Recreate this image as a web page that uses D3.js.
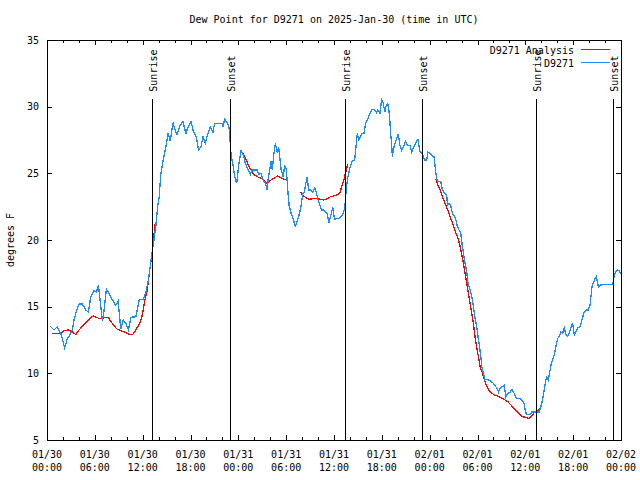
<!DOCTYPE html>
<html>
<head>
<meta charset="utf-8">
<script src="https://cdn.jsdelivr.net/npm/d3@7"></script>
<style>
  html, body { margin: 0; padding: 0; background: #fff; }
  svg { display: block; }
  text { font-family: "DejaVu Sans Mono", "Liberation Mono", monospace; font-size: 10px; fill: #000; }
</style>
</head>
<body>
<svg id="chart" width="640" height="480"></svg>
<script>
// ---------------- data ----------------
const chartTitle = "Dew Point for D9271 on 2025-Jan-30 (time in UTC)";
const yLabel = "degrees F";
const startTime = Date.UTC(2025, 0, 30, 0, 0);
const endTime = Date.UTC(2025, 1, 2, 0, 0);
const yTicks = [5, 10, 15, 20, 25, 30, 35];

// observations: hours after 2025-01-30 00:00 UTC
const obsHours = [0.38,0.88,1.29,1.63,1.92,2.22,2.55,2.89,3.18,3.39,3.73,4.02,4.44,4.86,5.19,5.49,5.91,6.2,6.45,6.66,6.95,7.16,7.45,7.79,8.21,8.63,8.92,9.26,9.55,9.89,10.22,10.52,11.15,11.56,12.1,12.4,12.69,12.94,13.16,13.36,13.66,13.86,14.07,14.29,14.58,14.92,15.2,15.46,15.8,16.08,16.3,16.62,17.05,17.43,17.63,18.06,18.38,18.72,19.01,19.31,19.57,19.85,20.14,20.48,20.82,21.02,21.95,22.08,22.28,22.66,22.91,23.0,23.12,23.34,23.54,23.79,24.04,24.34,24.67,24.88,25.22,25.51,25.72,26.35,26.55,26.85,27.1,27.39,27.61,27.73,27.93,28.11,28.27,28.44,28.65,28.86,29.07,29.19,29.37,29.62,29.82,30.03,30.2,30.37,30.62,30.87,31.13,31.38,31.67,31.88,32.08,32.29,32.42,32.63,32.83,33.05,33.34,33.59,33.8,34.02,34.22,34.43,34.72,34.93,35.15,35.35,35.56,35.85,36.06,36.28,36.61,36.91,37.16,37.36,37.45,37.57,37.74,37.99,38.29,38.58,38.7,38.92,39.12,39.33,39.55,39.75,39.96,40.25,40.5,40.8,41.09,41.34,41.51,41.76,41.97,42.18,42.38,42.56,42.76,42.89,43.01,43.1,43.23,43.32,43.44,43.64,43.86,44.07,44.27,44.48,44.7,44.99,45.2,45.53,45.74,45.95,46.24,46.53,46.66,46.79,47.0,47.21,47.37,47.63,47.79,48.04,48.34,48.54,48.67,48.84,48.97,49.38,49.6,49.89,50.14,50.23,50.43,50.64,50.85,51.06,51.27,51.48,51.68,51.9,52.11,52.31,52.44,52.65,52.81,53.07,53.28,53.49,53.66,53.82,54.0,54.12,54.28,54.41,54.54,54.75,54.91,55.13,55.33,55.67,56.01,56.17,56.42,56.64,56.84,57.14,57.34,57.55,57.76,58.09,58.31,58.6,58.9,59.35,59.65,59.85,59.98,60.15,60.61,60.82,61.23,61.74,61.95,62.16,62.36,62.58,62.7,62.87,63.0,63.21,63.42,63.62,63.84,64.05,64.25,64.46,64.68,64.88,65.09,65.3,65.51,65.72,65.93,66.14,66.35,66.56,66.89,67.1,67.32,67.61,67.89,68.11,68.23,68.36,68.52,68.74,68.9,69.08,69.2,69.28,69.7,70.96,71.09,71.29,71.59,71.79,71.95];
const obsValues = [13.55,13.25,13.5,13.1,12.6,11.9,12.6,12.9,13.25,14.0,14.75,15.2,15.2,14.75,14.6,15.75,16.2,16.1,16.6,15.5,13.9,14.75,16.3,16.0,15.5,15.1,15.4,13.3,14.0,13.75,13.25,14.2,14.25,15.5,15.55,16.1,16.9,18.0,19.0,19.75,21.1,22.4,23.25,25.0,26.0,27.0,28.0,27.4,28.8,28.25,27.9,28.5,28.9,27.95,28.4,28.9,28.1,27.75,26.75,27.0,27.75,27.25,27.9,28.5,28.1,28.75,28.75,28.5,29.05,28.75,28.25,27.0,26.25,25.6,24.75,24.25,25.6,26.7,26.3,25.75,25.25,24.9,25.25,25.25,24.9,25.0,24.5,24.25,23.75,24.5,25.25,25.9,25.25,26.4,27.25,26.6,26.9,26.25,25.25,24.75,25.6,25.25,23.75,22.6,22.0,21.6,21.05,21.4,22.0,22.6,23.5,23.6,24.1,24.7,23.75,23.75,23.6,23.9,23.5,23.0,22.6,22.25,22.25,22.1,22.0,21.25,21.75,22.45,21.55,21.6,21.6,21.75,22.0,22.4,23.25,24.0,24.7,25.4,25.95,26.0,26.6,28.0,27.5,27.75,28.0,28.0,28.75,29.1,29.5,29.8,29.75,29.55,29.75,29.5,30.5,30.25,29.6,30.1,30.2,29.75,28.9,28.0,27.25,26.25,26.75,27.25,27.6,27.95,27.1,26.75,27.0,27.4,27.1,27.1,26.6,26.9,27.3,27.55,27.1,26.6,26.55,26.25,26.0,26.0,26.6,26.5,26.3,26.25,25.6,24.75,24.4,24.4,23.75,23.5,23.4,22.6,22.75,22.6,22.0,21.8,21.55,21.0,20.75,20.5,19.5,18.75,18.25,17.6,16.75,16.25,15.75,15.0,14.25,13.75,13.1,12.5,11.9,11.25,10.5,10.0,9.5,9.55,9.5,9.4,9.25,9.1,8.9,8.6,8.9,9.0,9.1,8.25,8.5,8.55,8.8,8.5,8.1,8.1,7.9,7.75,7.25,6.9,6.9,7.1,7.1,7.1,7.5,8.0,8.75,9.5,9.75,9.5,9.9,10.6,11.0,11.4,12.0,12.6,12.8,13.1,13.0,13.4,12.9,12.8,13.0,13.4,13.75,12.9,13.1,13.4,13.5,14.0,14.5,14.75,14.75,15.1,15.75,16.5,16.75,17.1,17.25,16.75,16.4,16.6,16.65,16.65,17.1,17.6,17.75,17.7,17.45];

// analysis: hours after 2025-01-30 00:00 UTC; null marks a gap
const anaHours = [0.67,1.72,2.14,2.64,3.18,3.61,4.02,4.56,5.06,5.49,5.78,6.25,6.53,6.95,7.29,7.67,8.0,8.42,8.83,9.26,9.89,10.43,10.72,11.15,11.56,11.85,12.06,12.28,12.53,12.73,12.94,13.16,13.36,13.57,
  null,
  24.5,24.67,25.01,25.3,25.6,25.85,26.23,26.55,26.98,27.27,27.61,27.81,28.24,28.65,28.94,29.28,29.69,29.91,
  null,
  31.79,32.0,32.42,32.83,33.46,33.89,34.31,34.72,35.15,35.56,35.98,36.48,36.73,36.91,37.11,37.32,37.53,37.74,
  null,
  48.76,49.05,49.3,49.6,49.89,50.23,50.55,50.85,51.14,51.48,51.73,51.99,52.24,52.44,52.65,52.87,53.07,53.28,53.49,53.69,53.91,54.12,54.32,54.63,54.91,55.25,55.67,56.08,56.51,57.14,57.76,58.39,59.02,59.65,60.07,60.48,60.82,61.11,61.53,61.86];
const anaValues = [13.0,13.0,13.2,13.25,13.1,12.9,13.25,13.6,13.9,14.2,14.3,14.2,14.1,14.1,14.2,14.2,13.9,13.55,13.3,13.2,13.05,12.9,12.9,13.25,13.7,14.1,14.75,15.5,16.1,17.0,18.0,18.9,20.0,21.25,
  null,
  26.6,26.4,26.0,25.55,25.25,24.95,24.8,24.7,24.6,24.45,24.25,24.4,24.55,24.7,24.8,24.7,24.55,24.5,
  null,
  23.62,23.4,23.2,23.05,23.1,23.1,23.05,23.0,23.1,23.25,23.3,23.4,23.5,23.9,24.25,24.7,25.25,25.7,
  null,
  24.6,24.1,23.75,23.25,22.8,22.3,21.75,21.3,20.75,20.25,19.75,19.0,18.25,17.5,16.75,16.0,15.25,14.5,13.75,12.75,11.9,11.25,10.5,10.0,9.4,8.9,8.55,8.4,8.3,8.1,7.9,7.5,7.1,6.75,6.7,6.6,6.8,7.05,7.2,7.4];

// sun events: hours after 2025-01-30 00:00 UTC
const sunLabels = ["Sunrise", "Sunset", "Sunrise", "Sunset", "Sunrise", "Sunset"];
const sunHours = [13.23, 22.91, 37.36, 47.03, 61.36, 71.04];
const sunLineTop = 30.6;   // value where the event lines stop

const seriesNames = ["D9271 Analysis", "D9271"];
const seriesColors = ["#ff0000", "#1a8cff"];

// ---------------- drawing ----------------
const HOUR = 3600 * 1000;
const toDate = h => new Date(startTime + h * HOUR);

const svg = d3.select("#chart");
const pLeft = 47, pRight = 621, pTop = 40, pBottom = 440;

const x = d3.scaleUtc().domain([new Date(startTime), new Date(endTime)]).range([pLeft, pRight]);
const y = d3.scaleLinear().domain([5, 35]).range([pBottom, pTop]);

svg.append("rect").attr("width", 640).attr("height", 480).attr("fill", "#fff");

const majorTicks = d3.utcHour.every(6).range(new Date(startTime), new Date(endTime + 1));
const minorTicks = d3.utcHour.every(2).range(new Date(startTime), new Date(endTime + 1))
  .filter(d => d.getUTCHours() % 6 !== 0);

function styleAxis(g) {
  g.select(".domain").remove();
  g.selectAll("line").attr("stroke", "#000").attr("shape-rendering", "crispEdges");
}

// bottom & top axes (ticks inward)
svg.append("g").attr("transform", `translate(0,${pBottom})`)
  .call(d3.axisBottom(x).tickValues(majorTicks).tickSize(-5).tickFormat(""))
  .call(styleAxis);
svg.append("g").attr("transform", `translate(0,${pBottom})`)
  .call(d3.axisBottom(x).tickValues(minorTicks).tickSize(-3).tickFormat(""))
  .call(styleAxis);
svg.append("g").attr("transform", `translate(0,${pTop})`)
  .call(d3.axisTop(x).tickValues(majorTicks).tickSize(-5).tickFormat(""))
  .call(styleAxis);
svg.append("g").attr("transform", `translate(0,${pTop})`)
  .call(d3.axisTop(x).tickValues(minorTicks).tickSize(-3).tickFormat(""))
  .call(styleAxis);

// left & right axes
const yAxisG = svg.append("g").attr("transform", `translate(${pLeft},0)`)
  .call(d3.axisLeft(y).tickValues(yTicks).tickSize(-5).tickPadding(8).tickFormat(d3.format("d")))
  .call(styleAxis);
yAxisG.attr("font-family", null).attr("font-size", null);
yAxisG.selectAll("text").attr("fill", "#000");
svg.append("g").attr("transform", `translate(${pRight},0)`)
  .call(d3.axisRight(y).tickValues(yTicks).tickSize(-5).tickFormat(""))
  .call(styleAxis);

// x tick labels (two lines)
const fmtDate = d3.utcFormat("%m/%d"), fmtTime = d3.utcFormat("%H:%M");
const xl = svg.append("g");
majorTicks.forEach(d => {
  const t = xl.append("text").attr("text-anchor", "middle").attr("x", x(d));
  t.append("tspan").attr("x", x(d)).attr("y", pBottom + 18).text(fmtDate(d));
  t.append("tspan").attr("x", x(d)).attr("y", pBottom + 31).text(fmtTime(d));
});

// border
svg.append("rect").attr("x", pLeft).attr("y", pTop)
  .attr("width", pRight - pLeft).attr("height", pBottom - pTop)
  .attr("fill", "none").attr("stroke", "#000").attr("shape-rendering", "crispEdges");

// title and y label
svg.append("text").attr("x", (pLeft + pRight) / 2).attr("y", 23)
  .attr("text-anchor", "middle").text(chartTitle);
svg.append("text").attr("transform", `translate(14,${(pTop + pBottom) / 2}) rotate(-90)`)
  .attr("text-anchor", "middle").text(yLabel);

// data lines
const line = d3.line()
  .defined(d => d[0] !== null && d[1] !== null)
  .x(d => x(toDate(d[0])))
  .y(d => y(d[1]));

const anaData = anaHours.map((h, i) => [h, anaValues[i]]);
const obsData = obsHours.map((h, i) => [h, obsValues[i]]);

svg.append("path").datum(anaData).attr("d", line)
  .attr("fill", "none").attr("stroke", seriesColors[0]).attr("stroke-width", 1.3)
  .attr("shape-rendering", "crispEdges");
svg.append("path").datum(obsData).attr("d", line)
  .attr("fill", "none").attr("stroke", seriesColors[1]).attr("stroke-width", 1.3)
  .attr("shape-rendering", "crispEdges");

// sun event lines
const ev = svg.append("g");
sunHours.forEach((h, i) => {
  const xx = Math.round(x(toDate(h))) + 0.5;
  ev.append("line").attr("x1", xx).attr("x2", xx)
    .attr("y1", y(5)).attr("y2", y(sunLineTop))
    .attr("stroke", "#000").attr("stroke-width", 1).attr("shape-rendering", "crispEdges");
  ev.append("text")
    .attr("transform", `translate(${xx + 4.5},${y(sunLineTop) - 7}) rotate(-90)`)
    .attr("text-anchor", "start").text(sunLabels[i]);
});

// legend
const lg = svg.append("g");
seriesNames.forEach((name, i) => {
  const ly = 50 + i * 13;
  lg.append("text").attr("x", 574).attr("y", ly + 4)
    .attr("text-anchor", "end").text(name);
  lg.append("line").attr("x1", 581).attr("x2", 610).attr("y1", ly - 0.5).attr("y2", ly - 0.5)
    .attr("stroke", seriesColors[i]).attr("stroke-width", 1).attr("shape-rendering", "crispEdges");
});
</script>
</body>
</html>
